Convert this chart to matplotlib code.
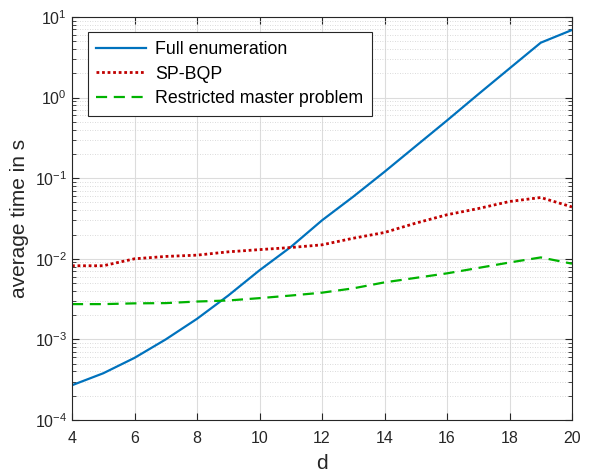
import matplotlib.pyplot as plt
import numpy as np

plt.rcParams['font.family'] = ['Liberation Sans', 'DejaVu Sans']
plt.rcParams['mathtext.fontset'] = 'custom'
plt.rcParams['mathtext.rm'] = 'Liberation Sans'
plt.rcParams['mathtext.it'] = 'Liberation Sans'
plt.rcParams['mathtext.default'] = 'regular'

d = np.arange(4, 21)
full_enum = [2.7e-4, 3.8e-4, 5.9e-4, 1.0e-3, 1.8e-3, 3.5e-3, 7.2e-3, 0.014, 0.030,
             0.059, 0.12, 0.25, 0.52, 1.1, 2.3, 4.8, 6.9]
sp_bqp = [0.0082, 0.0082, 0.0100, 0.0107, 0.0111, 0.0122, 0.0130, 0.0138, 0.0149,
          0.0180, 0.0212, 0.0277, 0.0352, 0.0420, 0.0514, 0.0576, 0.0440]
rmp = [0.00274, 0.00274, 0.00280, 0.00282, 0.00295, 0.00304, 0.00325, 0.00350, 0.00380,
       0.00430, 0.00510, 0.00580, 0.00660, 0.00770, 0.00900, 0.01040, 0.00870]

fig = plt.figure(figsize=(5.97, 4.72), dpi=100)
ax = fig.add_axes([72/597, 1-420/472, 500/597, 403/472])

ax.plot(d, full_enum, color='#0072bd', lw=1.6, label='Full enumeration')
ax.plot(d, sp_bqp, color='#c00000', lw=2.0, ls=(0, (1, 1)), label='SP-BQP')
ax.plot(d, rmp, color='#00b300', lw=1.6, ls=(0, (5, 3)), label='Restricted master problem')

ax.set_yscale('log')
ax.set_xlim(4, 20)
ax.set_ylim(1e-4, 1e1)
ax.set_xticks(np.arange(4, 21, 2))

ax.grid(True, which='major', color='#dcdcdc', lw=0.8)
ax.grid(True, which='minor', color='#cfcfcf', lw=0.6, ls=(0, (1, 2)))
ax.set_axisbelow(True)

for s in ax.spines.values():
    s.set_color('#262626')
    s.set_linewidth(0.8)
ax.tick_params(which='both', direction='in', top=True, right=True, colors='#262626',
               labelsize=11.5, labelcolor='#262626')
ax.tick_params(which='major', length=5)
ax.tick_params(which='minor', length=3)
ax.tick_params(axis='x', which='major', pad=8)

ax.set_xlabel('d', fontsize=15, color='#262626', labelpad=6)
ax.set_ylabel('average time in s', fontsize=15, color='#262626')

leg = ax.legend(loc='upper left', bbox_to_anchor=(0.031, 0.962), fontsize=12.8,
                fancybox=False, edgecolor='#262626', framealpha=1,
                handlelength=2.8, handletextpad=0.5, borderpad=0.5,
                labelspacing=0.42, borderaxespad=0)
leg.get_frame().set_linewidth(0.8)

fig.savefig('out.png', dpi=100)
